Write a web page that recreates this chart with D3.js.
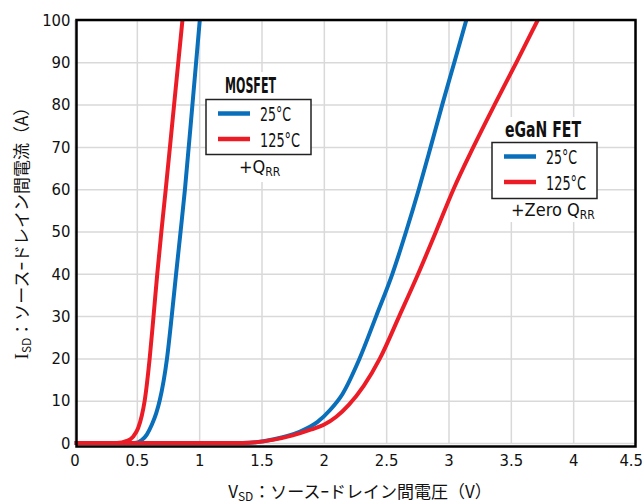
<!DOCTYPE html>
<html lang="ja">
<head>
  <meta charset="UTF-8">
  <title>MOSFET vs eGaN FET 逆導通特性</title>
  <script src="https://d3js.org/d3.v7.min.js"></script>
  <style>
    body {
      margin: 0;
      background-color: #fff;
    }
    svg {
      display: block;
    }
    .grid line {
      stroke: #d9d9d9;
      stroke-width: 1.5;
    }
    .grid path {
      display: none;
    }
    .tick-label text {
      font-family: "DejaVu Sans Condensed", "Liberation Sans", sans-serif;
      font-size: 16.5px;
      fill: #111;
    }
    .tick-label path {
      display: none;
    }
    .axis-label {
      font-family: "Noto Sans CJK JP", sans-serif;
      font-size: 17px;
      fill: #111;
    }
    .legend text {
      font-family: "DejaVu Sans Condensed", "Liberation Sans", sans-serif;
      fill: #111;
    }
  </style>
</head>
<body>
  <div id="chart"></div>

  <script>
    // Tick values
    const xTicks = [0, 0.5, 1, 1.5, 2, 2.5, 3, 3.5, 4, 4.5];
    const yTicks = [0, 10, 20, 30, 40, 50, 60, 70, 80, 90, 100];

    // MOSFET, 25°C  (V, A)
    const mosfet25V = [0, 0.48, 0.54, 0.58, 0.62, 0.655, 0.683, 0.742, 0.780, 0.815, 0.851, 0.886, 0.946, 1.005];
    const mosfet25I = [0, 0, 0.7, 2, 4.3, 7, 10, 20, 30, 40, 50, 60, 80, 100];

    // MOSFET, 125°C
    const mosfet125V = [0, 0.34, 0.42, 0.47, 0.51, 0.54, 0.563, 0.603, 0.634, 0.664, 0.697, 0.732, 0.799, 0.866];
    const mosfet125I = [0, 0, 0.5, 1.5, 3.5, 6.5, 10, 20, 30, 40, 50, 60, 80, 100];

    // eGaN FET, 25°C
    const egan25V = [0, 1.35, 1.60, 1.80, 1.95, 2.05, 2.15, 2.28, 2.42, 2.55, 2.66, 2.762, 2.857, 2.950, 3.047, 3.143];
    const egan25I = [0, 0, 0.9, 2.6, 5, 7.8, 11.6, 19.5, 30, 40, 50, 60, 70, 80, 90, 100];

    // eGaN FET, 125°C
    const egan125V = [0, 1.35, 1.60, 1.75, 1.90, 2.00, 2.10, 2.20, 2.32, 2.45, 2.605, 2.757, 2.90, 3.04, 3.20, 3.37, 3.545, 3.716];
    const egan125I = [0, 0, 0.8, 1.8, 3.2, 4.3, 6.2, 9, 13.5, 20, 30, 40, 50, 60, 70, 80, 90, 100];

    const blue = '#0a6fba';
    const red = '#ec1c27';

    const zip = (vs, is) => vs.map((v, i) => ({ v: v, i: is[i] }));

    // blue first, red on top (as in the original)
    const series = [
      { name: 'eGaN 25', color: blue, values: zip(egan25V, egan25I) },
      { name: 'MOSFET 25', color: blue, values: zip(mosfet25V, mosfet25I) },
      { name: 'eGaN 125', color: red, values: zip(egan125V, egan125I) },
      { name: 'MOSFET 125', color: red, values: zip(mosfet125V, mosfet125I) }
    ];

    const width = 643;
    const height = 503;
    const margin = { top: 20, right: 7.5, bottom: 60, left: 74.5 };
    const innerWidth = width - margin.left - margin.right;
    const innerHeight = height - margin.top - margin.bottom;

    const root = d3.select('#chart')
      .append('svg')
      .attr('width', width)
      .attr('height', height);

    const svg = root.append('g')
      .attr('transform', `translate(${margin.left}, ${margin.top})`);

    const x = d3.scaleLinear().domain([0, 4.5]).range([0, innerWidth]);
    const y = d3.scaleLinear().domain([0, 100]).range([innerHeight, 0]);

    // grid
    svg.append('g')
      .attr('class', 'grid')
      .attr('transform', `translate(0, ${innerHeight})`)
      .call(d3.axisBottom(x).tickValues(xTicks).tickSize(-innerHeight).tickFormat(''));

    svg.append('g')
      .attr('class', 'grid')
      .call(d3.axisLeft(y).tickValues(yTicks).tickSize(-innerWidth).tickFormat(''));

    // tick labels
    const xAxis = svg.append('g')
      .attr('class', 'tick-label')
      .attr('transform', `translate(0, ${innerHeight})`)
      .call(d3.axisBottom(x).tickValues(xTicks).tickSize(0).tickPadding(11).tickFormat(d3.format('')));
    xAxis.selectAll('line').remove();
    // last label would run past the page edge
    xAxis.selectAll('text')
      .filter(d => d === 4.5)
      .attr('text-anchor', 'end')
      .attr('dx', 7);

    svg.append('g')
      .attr('class', 'tick-label')
      .call(d3.axisLeft(y).tickValues(yTicks).tickSize(0).tickPadding(4))
      .selectAll('line').remove();

    // curves
    svg.append('clipPath')
      .attr('id', 'plot-clip')
      .append('rect')
      .attr('x', 0)
      .attr('y', 0)
      .attr('width', innerWidth)
      .attr('height', innerHeight + 4);

    const line = d3.line()
      .x(d => x(d.v))
      .y(d => y(d.i))
      .curve(d3.curveMonotoneX);

    svg.append('g')
      .attr('clip-path', 'url(#plot-clip)')
      .selectAll('path')
      .data(series)
      .join('path')
      .attr('fill', 'none')
      .attr('stroke', d => d.color)
      .attr('stroke-width', 4)
      .attr('stroke-linejoin', 'round')
      .attr('d', d => line(d.values));

    // frame
    svg.append('rect')
      .attr('x', 2)
      .attr('y', 0)
      .attr('width', innerWidth - 2)
      .attr('height', innerHeight + 3.5)
      .attr('fill', 'none')
      .attr('stroke', '#000')
      .attr('stroke-width', 2.5);

    // legends
    function legend(opts) {
      const g = root.append('g').attr('class', 'legend');
      g.append('rect')
        .attr('x', opts.x)
        .attr('y', opts.bgTop)
        .attr('width', opts.w)
        .attr('height', opts.bgBottom - opts.bgTop)
        .attr('fill', '#fff');
      g.append('text')
        .attr('x', opts.titleX)
        .attr('y', opts.titleY)
        .attr('font-size', 21)
        .attr('font-weight', 'bold')
        .attr('textLength', opts.titleW)
        .attr('lengthAdjust', 'spacingAndGlyphs')
        .text(opts.title);
      g.append('rect')
        .attr('x', opts.x)
        .attr('y', opts.y)
        .attr('width', opts.w)
        .attr('height', opts.h)
        .attr('fill', '#fff')
        .attr('stroke', '#222')
        .attr('stroke-width', 1.5);
      [['25°C', blue, 31], ['125°C', red, 40]].forEach((e, k) => {
        const yy = opts.y + 14 + k * 25.5;
        g.append('line')
          .attr('x1', opts.x + 12)
          .attr('x2', opts.x + 44)
          .attr('y1', yy)
          .attr('y2', yy)
          .attr('stroke', e[1])
          .attr('stroke-width', 4.5);
        g.append('text')
          .attr('x', opts.x + 54)
          .attr('y', yy + 7.5)
          .attr('font-size', 20)
          .attr('textLength', e[2])
          .attr('lengthAdjust', 'spacingAndGlyphs')
          .text(e[0]);
      });
      const t = g.append('text')
        .attr('x', opts.subX)
        .attr('y', opts.subY)
        .attr('font-size', 18);
      t.append('tspan').text(opts.sub);
      t.append('tspan').attr('font-size', 12).attr('dy', 3).text('RR');
    }

    legend({
      title: 'MOSFET', titleX: 225, titleY: 93, titleW: 51,
      x: 206, y: 99.5, w: 105, h: 55, bgTop: 72, bgBottom: 182,
      sub: '+Q', subX: 239, subY: 173
    });

    legend({
      title: 'eGaN FET', titleX: 505, titleY: 137, titleW: 76,
      x: 492, y: 142.5, w: 105, h: 56, bgTop: 117, bgBottom: 222,
      sub: '+Zero Q', subX: 511, subY: 216
    });

    // axis labels
    const xl = root.append('text')
      .attr('class', 'axis-label')
      .attr('x', 360)
      .attr('y', 498)
      .attr('text-anchor', 'middle');
    xl.append('tspan').text('V');
    xl.append('tspan').attr('font-size', 12).attr('dy', 3).text('SD');
    xl.append('tspan').attr('dy', -3).text('：ソースｰドレイン間電圧（V）');

    const yl = root.append('text')
      .attr('class', 'axis-label')
      .attr('transform', 'translate(28, 229) rotate(-90)')
      .attr('text-anchor', 'middle');
    yl.append('tspan').attr('font-family', 'Liberation Serif').attr('font-size', 19).text('I');
    yl.append('tspan').attr('font-size', 12).attr('dy', 3).text('SD');
    yl.append('tspan').attr('dy', -3).text('：ソースｰドレイン間電流（A）');
  </script>
</body>
</html>
